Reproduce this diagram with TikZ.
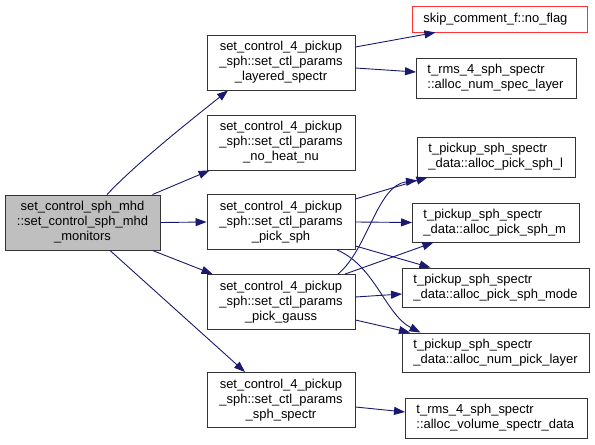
\documentclass[tikz,border=0pt]{standalone}
\usepackage{fontspec}
\setmainfont{Liberation Sans}
\usetikzlibrary{arrows.meta}
\definecolor{edgeblue}{HTML}{191970}
\definecolor{mainfill}{HTML}{BFBFBF}
\definecolor{redline}{HTML}{FF3333}
\begin{document}
\begin{tikzpicture}[x=1bp,y=-1bp,
  every node/.style={font=\fontsize{13pt}{15bp}\selectfont, inner sep=0pt},
  midbox/.style={draw=black!80, line width=0.9bp, fill=white, align=center,
     minimum width=148bp, minimum height=55bp},
  mainbox/.style={midbox, fill=mainfill, minimum width=155bp},
  rbox/.style={draw=black!80, line width=0.9bp, fill=white, align=left,
     anchor=west, inner xsep=11bp, text width=#1},
  redbox/.style={rbox=#1, draw=redline},
  edge/.style={draw=edgeblue, line width=0.9bp, -{Triangle[length=11bp,width=8bp]}}
]
\useasboundingbox (0,0) rectangle (595,445);

% main node
\node[mainbox, minimum height=55bp] (main) at (82.5,222.5)
  {set\_control\_sph\_mhd\\::set\_control\_sph\_mhd\\\_monitors};

% middle column
\node[midbox] (A) at (281,62.5) {set\_control\_4\_pickup\\\_sph::set\_ctl\_params\\\_layered\_spectr};
\node[midbox] (B) at (281,142.5) {set\_control\_4\_pickup\\\_sph::set\_ctl\_params\\\_no\_heat\_nu};
\node[midbox] (C) at (281,222) {set\_control\_4\_pickup\\\_sph::set\_ctl\_params\\\_pick\_sph};
\node[midbox] (D) at (281,302) {set\_control\_4\_pickup\\\_sph::set\_ctl\_params\\\_pick\_gauss};
\node[midbox] (E) at (281,400) {set\_control\_4\_pickup\\\_sph::set\_ctl\_params\\\_sph\_spectr};

% right column
\node[redbox=153bp, minimum height=26bp] (R1) at (412,19) {skip\_comment\_f::no\_flag};
\node[rbox=138bp, minimum height=40bp] (R2) at (416,78) {t\_rms\_4\_sph\_spectr\\::alloc\_num\_spec\_layer};
\node[rbox=136bp, minimum height=40bp] (R3) at (417,157) {t\_pickup\_sph\_spectr\\\_data::alloc\_pick\_sph\_l};
\node[rbox=145bp, minimum height=39bp] (R4) at (412,222.5) {t\_pickup\_sph\_spectr\\\_data::alloc\_pick\_sph\_m};
\node[rbox=165bp, minimum height=39bp] (R5) at (402,287.5) {t\_pickup\_sph\_spectr\\\_data::alloc\_pick\_sph\_mode};
\node[rbox=165bp, minimum height=39bp] (R6) at (402,352.5) {t\_pickup\_sph\_spectr\\\_data::alloc\_num\_pick\_layer};
\node[rbox=160bp, minimum height=40bp] (R7) at (405,418) {t\_rms\_4\_sph\_spectr\\::alloc\_volume\_spectr\_data};

% edges from main
\draw[edge] ([shift={(24.5,0)}]main.north) .. controls +(30,-32) and +(-35,28) .. ([shift={(-53,0)}]A.south);
\draw[edge] ([shift={(-8,0)}]main.north east) -- ([shift={(3,0)}]B.south west);
\draw[edge] (main.east) -- (C.west);
\draw[edge] ([shift={(-8,0)}]main.south east) -- ([shift={(6,0)}]D.north west);
\draw[edge] ([shift={(27.5,0)}]main.south) -- ([shift={(-36,0)}]E.north);

% edges from A
\draw[edge] ([shift={(0,-15.5)}]A.east) -- ([shift={(-64.5,0)}]R1.south);
\draw[edge] ([shift={(0,5.5)}]A.east) -- ([shift={(0,-6)}]R2.west);

% edges from C
\draw[edge] ([shift={(0,-23)}]C.east) -- ([shift={(-69,0)}]R3.south);
\draw[edge] (C.east) -- (R4.west);
\draw[edge] ([shift={(0,24)}]C.east) -- ([shift={(-65.5,0)}]R5.north);
\draw[edge] ([shift={(56,0)}]C.south) .. controls +(38,16) and +(-35,-18) .. ([shift={(-75.5,0)}]R6.north);

% edges from D
\draw[edge] ([shift={(57,0)}]D.north) .. controls +(30,-25) and +(-40,5) .. ([shift={(0,3)}]R3.south west);
\draw[edge] ([shift={(64,0)}]D.north) -- ([shift={(-62.5,0)}]R4.south);
\draw[edge] ([shift={(0,-5)}]D.east) -- ([shift={(0,6.5)}]R5.west);
\draw[edge] ([shift={(0,18)}]D.east) -- ([shift={(8,0)}]R6.north west);

% edge from E
\draw[edge] ([shift={(0,7)}]E.east) -- ([shift={(0,-6)}]R7.west);
\end{tikzpicture}
\end{document}
